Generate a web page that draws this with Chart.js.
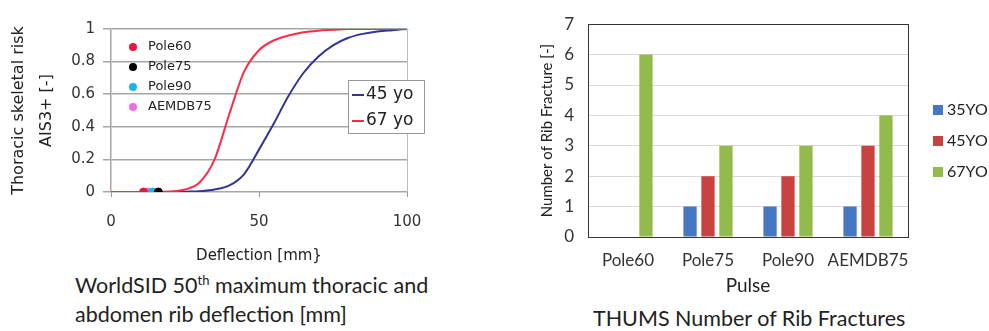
<!DOCTYPE html>
<html>
<head>
<meta charset="utf-8">
<script src="https://cdn.jsdelivr.net/npm/chart.js@4/dist/chart.umd.min.js"></script>
<style>
  body { margin: 0; background: #fff; width: 989px; height: 331px; position: relative; overflow: hidden; }
  #riskBox { position: absolute; left: 0; top: 0; width: 440px; height: 269px; }
  #fractureBox { position: absolute; left: 500px; top: 0; width: 489px; height: 301px; }
  .caption { position: absolute; font-family: Lato, sans-serif; font-size: 21.5px; color: #222; line-height: 29px; white-space: nowrap; }
  .caption sup { font-size: 13px; line-height: 0; }
</style>
</head>
<body>
<div id="riskBox"><canvas id="riskChart"></canvas></div>
<div id="fractureBox"><canvas id="fractureChart"></canvas></div>
<div class="caption" style="left:75px; top:271px;">WorldSID 50<sup>th</sup> maximum thoracic and<br>abdomen rib deflection [mm]</div>
<div class="caption" style="left:593px; top:304px;">THUMS Number of Rib Fractures</div>
<script>
// Risk curves (AIS3+ vs rib deflection)
const deflection = [0, 5, 10, 15, 20, 25, 30, 35, 40, 45, 50, 55, 60, 65, 70, 75, 80, 85, 90, 95, 100];
const risk45 = [0, 0, 0, 0, 0, 0.002, 0.005, 0.015, 0.04, 0.11, 0.26, 0.42, 0.59, 0.73, 0.83, 0.9, 0.945, 0.97, 0.985, 0.993, 1];
const risk67 = [0, 0, 0, 0, 0.003, 0.015, 0.06, 0.2, 0.48, 0.74, 0.87, 0.93, 0.96, 0.98, 0.99, 0.995, 1, 1, 1, 1, 1];

// WorldSID measured deflections per pulse
const pulses = ["Pole60", "Pole75", "Pole90", "AEMDB75"];
const sidDeflection = [11, 16, 14, 12.5];
const pulseColors = ["#f0143c", "#000000", "#1cb4e8", "#ec6ee0"];

// THUMS rib fractures
const ages = ["35YO", "45YO", "67YO"];
const fractures35 = [0, 1, 1, 1];
const fractures45 = [0, 2, 2, 3];
const fractures67 = [6, 3, 3, 4];
const ageColors = ["#4677c2", "#c8423f", "#92bb4c"];

const toXY = (xs, ys) => xs.map((x, i) => ({ x: x, y: ys[i] }));

// legends drawn inside the plot
const riskLegend = {
  id: "riskLegend",
  afterDraw(chart) {
    const ctx = chart.ctx;
    ctx.save();
    ctx.font = "13px 'DejaVu Sans'";
    ctx.textBaseline = "middle";
    const pts = chart.data.datasets.filter(d => d.type === "scatter");
    pts.forEach((d, i) => {
      const y = 47 + i * 20;
      ctx.fillStyle = d.backgroundColor;
      ctx.beginPath();
      ctx.arc(133, y, 4, 0, Math.PI * 2);
      ctx.fill();
      ctx.fillStyle = "#222";
      ctx.fillText(d.label, 148, y);
    });
    // line legend box
    ctx.fillStyle = "#fff";
    ctx.fillRect(348, 80, 76, 53);
    ctx.strokeStyle = "#999";
    ctx.lineWidth = 1;
    ctx.strokeRect(348.5, 80.5, 76, 53);
    ctx.font = "17px 'DejaVu Sans'";
    const lines = chart.data.datasets.filter(d => d.type === "line");
    lines.forEach((d, i) => {
      const y = 95 + i * 26;
      ctx.strokeStyle = d.borderColor;
      ctx.lineWidth = 2;
      ctx.beginPath();
      ctx.moveTo(352, y);
      ctx.lineTo(364, y);
      ctx.stroke();
      ctx.fillStyle = "#222";
      ctx.fillText(d.label, 366, y);
    });
    ctx.restore();
  }
};

const fractureLegend = {
  id: "fractureLegend",
  afterDraw(chart) {
    const ctx = chart.ctx;
    const area = chart.chartArea;
    ctx.save();
    ctx.strokeStyle = "#333";
    ctx.lineWidth = 1;
    ctx.strokeRect(Math.round(area.left) + 0.5, Math.round(area.top) + 0.5,
      Math.round(area.right - area.left), Math.round(area.bottom - area.top));
    ctx.font = "16px Lato";
    ctx.textBaseline = "middle";
    chart.data.datasets.forEach((d, i) => {
      const y = 110 + i * 31;
      ctx.fillStyle = d.backgroundColor;
      ctx.fillRect(433, y - 5, 10, 10);
      ctx.fillStyle = "#222";
      ctx.fillText(d.label, 447, y);
    });
    ctx.restore();
  }
};

new Chart(document.getElementById("riskChart"), {
  data: {
    datasets: [
      ...pulses.map((p, i) => ({
        type: "scatter",
        label: p,
        data: [{ x: sidDeflection[i], y: 0 }],
        backgroundColor: pulseColors[i],
        borderColor: pulseColors[i],
        pointRadius: 4,
        order: 0
      })),
      {
        type: "line",
        label: "45 yo",
        data: toXY(deflection, risk45),
        borderColor: "#33349a",
        borderWidth: 2,
        pointRadius: 0,
        cubicInterpolationMode: "monotone",
        order: 2
      },
      {
        type: "line",
        label: "67 yo",
        data: toXY(deflection, risk67),
        borderColor: "#ff2a48",
        borderWidth: 2,
        pointRadius: 0,
        cubicInterpolationMode: "monotone",
        order: 1
      }
    ]
  },
  options: {
    responsive: true,
    maintainAspectRatio: false,
    animation: false,
    layout: { padding: { top: 29, right: 33, left: 0, bottom: 0 } },
    plugins: { legend: { display: false }, tooltip: { enabled: false } },
    scales: {
      x: {
        type: "linear",
        min: 0,
        max: 100,
        afterFit(scale) { scale.height = 77; },
        ticks: { stepSize: 50, padding: 16, maxRotation: 0, color: "#333", font: { family: "DejaVu Sans", size: 15 } },
        grid: {
          color: ctx => ctx.tick && ctx.tick.value === 100 ? "#bbb" : "transparent",
          tickColor: "#999",
          tickLength: 5
        },
        border: { display: false },
        title: {
          display: true,
          text: "Deflection [mm}",
          color: "#222",
          padding: { top: 4, bottom: 4 },
          font: { family: "DejaVu Sans", size: 15 }
        }
      },
      y: {
        min: 0,
        max: 1,
        afterFit(scale) { scale.width = 111; },
        ticks: {
          stepSize: 0.2,
          padding: 8,
          color: "#333",
          font: { family: "DejaVu Sans", size: 15 },
          callback: v => String(+v.toFixed(1))
        },
        grid: { color: "#a6a6a6", lineWidth: 1.5, tickLength: 8 },
        border: { color: "#a6a6a6", width: 1.5 },
        title: {
          display: true,
          text: ["Thoracic skeletal risk", "AIS3+ [-]"],
          color: "#222",
          padding: { top: 4, bottom: 0 },
          font: { family: "DejaVu Sans", size: 16, lineHeight: 1.8 }
        }
      }
    }
  },
  plugins: [riskLegend]
});

new Chart(document.getElementById("fractureChart"), {
  type: "bar",
  data: {
    labels: pulses,
    datasets: [
      { label: ages[0], data: fractures35, backgroundColor: ageColors[0] },
      { label: ages[1], data: fractures45, backgroundColor: ageColors[1] },
      { label: ages[2], data: fractures67, backgroundColor: ageColors[2] }
    ]
  },
  options: {
    responsive: true,
    maintainAspectRatio: false,
    animation: false,
    layout: { padding: { top: 20, right: 81, left: 0, bottom: 0 } },
    datasets: { bar: { categoryPercentage: 0.673, barPercentage: 0.74 } },
    plugins: { legend: { display: false }, tooltip: { enabled: false } },
    scales: {
      x: {
        afterFit(scale) { scale.height = 64; },
        ticks: { padding: 5, maxRotation: 0, minRotation: 0, autoSkip: false, color: "#333", font: { family: "Lato", size: 17 } },
        grid: { display: false },
        border: { color: "#333" },
        title: {
          display: true,
          text: "Pulse",
          color: "#222",
          padding: { top: 4, bottom: 4 },
          font: { family: "Lato", size: 19 }
        }
      },
      y: {
        min: 0,
        max: 7,
        afterFit(scale) { scale.width = 88; },
        ticks: { stepSize: 1, padding: 14, color: "#333", font: { family: "Lato", size: 17 } },
        grid: { color: "#d9d9d9", drawTicks: false },
        border: { color: "#333" },
        title: {
          display: true,
          text: "Number of Rib Fracture [-]",
          color: "#222",
          padding: { top: 38, bottom: 0 },
          font: { family: "Lato", size: 15 }
        }
      }
    }
  },
  plugins: [fractureLegend]
});
</script>
</body>
</html>
